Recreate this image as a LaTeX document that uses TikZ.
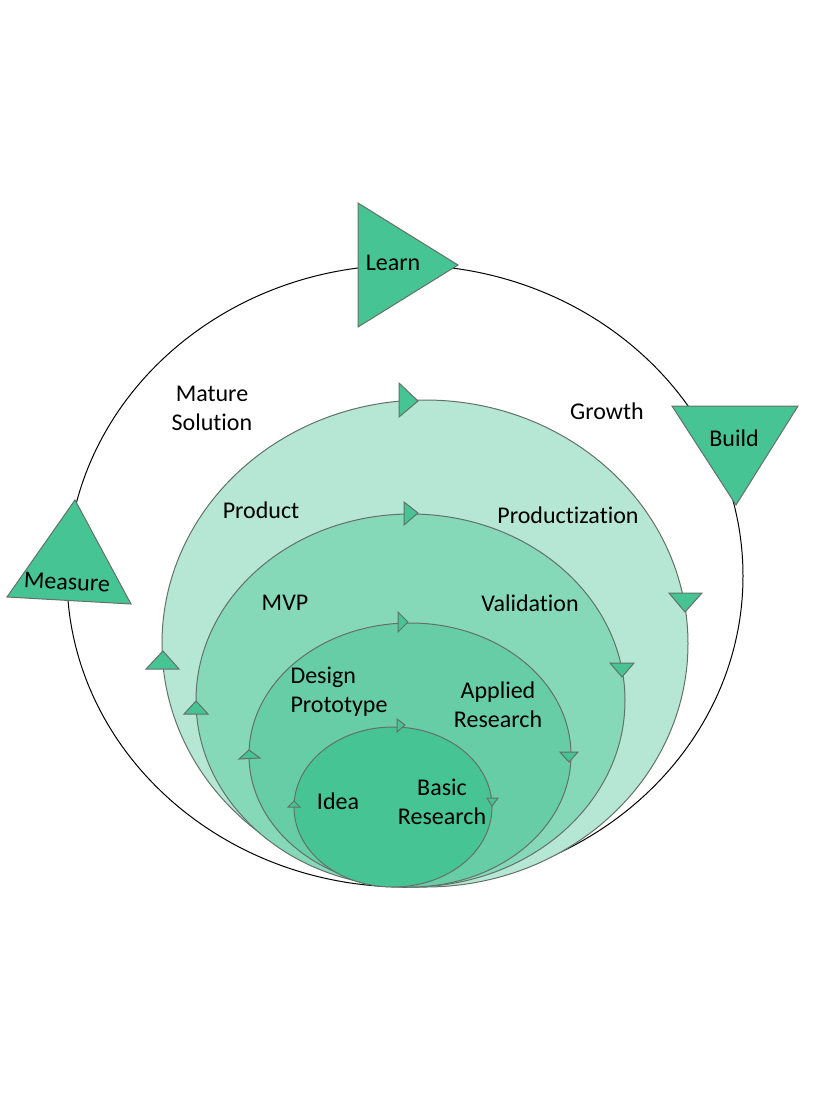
\documentclass[tikz,border=0pt]{standalone}
\usepackage{fontspec}
\setmainfont{Carlito}[Ligatures=NoCommon]
\definecolor{cyclegreen}{RGB}{70,196,148}
\definecolor{ringlight}{RGB}{181,231,212}
\definecolor{ringmid}{RGB}{134,217,184}
\definecolor{ringdark}{RGB}{102,205,166}
\definecolor{edgegray}{RGB}{100,112,106}
\tikzset{every picture/.style={
    every path/.style={line width=0.75pt},
}}
\tikzset{
    ring/.style={draw=edgegray},
    tri/.style={fill=cyclegreen, draw=edgegray},
    lbl/.style={font=\fontsize{18}{21.75}\selectfont, align=center, inner sep=0pt},
}

\begin{document}
\begin{tikzpicture}[x=0.75pt, y=-0.75pt]
    \useasboundingbox (0,0) rectangle (814,1108);
    % outer loop
    \draw[black] (405,576) ellipse [x radius=338, y radius=311];
    % nested rings
    \filldraw[ring, fill=ringlight] (425,643.5) ellipse [x radius=263, y radius=243.5];
    \filldraw[ring, fill=ringmid] (410.5,700.5) ellipse [x radius=214.5, y radius=186.5];
    \filldraw[ring, fill=ringdark] (410,755) ellipse [x radius=161, y radius=132];
    \filldraw[ring, fill=cyclegreen] (393,807) ellipse [x radius=99, y radius=80];
    % arrow tips on the rings
    \filldraw[tri] (399,383) -- (399,417) -- (418,401) -- cycle;
    \filldraw[tri] (669,593) -- (702,593) -- (685,612) -- cycle;
    \filldraw[tri] (146,669) -- (179,669) -- (163,651) -- cycle;
    \filldraw[tri] (404,502) -- (404,525) -- (418,513) -- cycle;
    \filldraw[tri] (610,663) -- (634,663) -- (622,677) -- cycle;
    \filldraw[tri] (184,714) -- (208,714) -- (196,701) -- cycle;
    \filldraw[tri] (398,612) -- (398,632) -- (408,622) -- cycle;
    \filldraw[tri] (560,752) -- (578,752) -- (569,762) -- cycle;
    \filldraw[tri] (239,759) -- (260,758) -- (249,750) -- cycle;
    \filldraw[tri] (397,719) -- (397,732) -- (405,725) -- cycle;
    \filldraw[tri] (487,798) -- (498,798) -- (492,806) -- cycle;
    \filldraw[tri] (288,807) -- (300,807) -- (294,801) -- cycle;
    % big triangles
    \filldraw[tri] (358,203) -- (358,327) -- (458,265) -- cycle;
    \filldraw[tri] (672,406) -- (798,406) -- (736,505) -- cycle;
    \filldraw[tri] (75,500) -- (131,604) -- (7,597) -- cycle;
    \node[lbl] (learn) at (393,263) {Learn};
    \node[lbl] (build) at (734,438) {Build};
    \node[lbl, rotate=-3] (measure) at (67,582) {Measure};
    % labels
    \node[lbl] (mature) at (212,408) {Mature\\Solution};
    \node[lbl] (growth) at (607,411) {Growth};
    \node[lbl] (product) at (261,510) {Product};
    \node[lbl] (productization) at (568,515) {Productization};
    \node[lbl] (mvp) at (285,603) {MVP};
    \node[lbl] (validation) at (530,603) {Validation};
    \node[lbl, align=left, anchor=west] (design) at (290,692) {Design\\Prototype};
    \node[lbl] (applied) at (498,705) {Applied\\Research};
    \node[lbl] (idea) at (338,801) {Idea};
    \node[lbl] (basic) at (442,802) {Basic\\Research};
\end{tikzpicture}
\end{document}
